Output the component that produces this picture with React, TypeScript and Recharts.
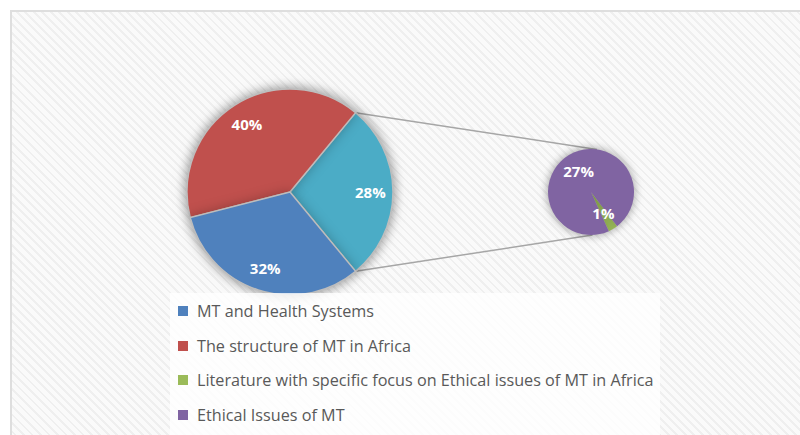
import React from "react"
import { PieChart, Pie, Cell, Legend, Customized } from "recharts"

// main pie: "other" slice (teal) is split out into the small pie
const mainNames = ["Other", "The structure of MT in Africa", "MT and Health Systems"]
const mainValues = [28, 40, 32]
const mainColors = ["#4BACC6", "#C0504D", "#4F81BD"]

const subNames = [
  "Literature with specific focus on Ethical issues of MT in Africa",
  "Ethical Issues of MT",
]
const subValues = [1, 27]
const subColors = ["#9BBB59", "#8064A2"]

const legendNames = [
  "MT and Health Systems",
  "The structure of MT in Africa",
  "Literature with specific focus on Ethical issues of MT in Africa",
  "Ethical Issues of MT",
]
const legendColors = ["#4F81BD", "#C0504D", "#9BBB59", "#8064A2"]

const mainData = mainNames.map((name, i) => ({ name, value: mainValues[i] }))
const subData = subNames.map((name, i) => ({ name, value: subValues[i] }))

const RADIAN = Math.PI / 180
const MAIN = { cx: 290, cy: 192, r: 103 }
const SUB = { cx: 591, cy: 192, r: 43 }
const otherShare = mainValues[0] / mainValues.reduce((a, b) => a + b, 0)
const mainStart = -otherShare * 180
const subStart = -65.5

const makeLabel = (ratio: number) => (props: any) => {
  const { cx, cy, midAngle, outerRadius, value } = props
  const r = outerRadius * ratio
  const x = cx + r * Math.cos(-midAngle * RADIAN)
  const y = cy + r * Math.sin(-midAngle * RADIAN)
  return (
    <text
      x={x}
      y={y}
      fill="#fff"
      textAnchor="middle"
      dominantBaseline="central"
      style={{ fontFamily: "'Open Sans'", fontWeight: 700, fontSize: 15 }}
    >
      {`${value}%`}
    </text>
  )
}

const Connectors = () => {
  const pt = (c: typeof MAIN, deg: number) => [
    c.cx + c.r * Math.cos(deg * RADIAN),
    c.cy - c.r * Math.sin(deg * RADIAN),
  ]
  const [x1, y1] = pt(MAIN, -mainStart)
  const [x2, y2] = pt(SUB, 82)
  const [x3, y3] = pt(MAIN, mainStart)
  const [x4, y4] = pt(SUB, -88)
  return (
    <g>
      <line x1={x1} y1={y1} x2={x2} y2={y2} stroke="#a6a6a6" strokeWidth={1.5} />
      <line x1={x3} y1={y3} x2={x4} y2={y4} stroke="#a6a6a6" strokeWidth={1.5} />
    </g>
  )
}

const LegendBox = () => (
  <div
    style={{
      background: "rgba(255,255,255,0.8)",
      width: 490,
      height: 142,
      boxSizing: "border-box",
      padding: "1px 0 0 8px",
    }}
  >
    {legendNames.map((n, i) => (
      <div
        key={n}
        style={{ display: "flex", alignItems: "center", height: 34.5, gap: 9 }}
      >
        <span style={{ width: 10, height: 10, background: legendColors[i], display: "inline-block", flexShrink: 0 }} />
        <span style={{ fontFamily: "'Open Sans'", fontSize: 16.2, color: "#595959", whiteSpace: "nowrap" }}>{n}</span>
      </div>
    ))}
  </div>
)

export default function App() {
  return (
    <div style={{ position: "absolute", left: 0, top: 0, width: 800, height: 435, background: "#fff", overflow: "hidden" }}>
      <style>{`.main-pie { filter: drop-shadow(0 0 6px rgba(0,0,0,0.25)); } .sub-pie { filter: drop-shadow(0 0 5px rgba(0,0,0,0.2)); }`}</style>
      <div
        style={{
          position: "absolute",
          left: 10,
          top: 10,
          width: 800,
          height: 435,
          borderTop: "2px solid #dedede",
          borderLeft: "2px solid #dedede",
          background:
            "repeating-linear-gradient(45deg, #fafafa 0px, #fafafa 4px, #efefef 4px, #efefef 6px)",
        }}
      />
      <div style={{ position: "absolute", left: 0, top: 0 }}>
        <PieChart width={800} height={435} margin={{ top: 0, right: 0, bottom: 0, left: 0 }}>
          <Customized component={Connectors} />
          <Pie
            data={mainData}
            dataKey="value"
            nameKey="name"
            cx={MAIN.cx}
            cy={MAIN.cy}
            outerRadius={MAIN.r}
            startAngle={mainStart}
            endAngle={mainStart + 360}
            stroke="#bdbdbd"
            strokeWidth={1.5}
            label={makeLabel(0.78)}
            labelLine={false}
            className="main-pie"
            isAnimationActive={false}
          >
            {mainData.map((d, i) => (
              <Cell key={d.name} fill={mainColors[i]} />
            ))}
          </Pie>
          <Pie
            data={subData}
            dataKey="value"
            nameKey="name"
            cx={SUB.cx}
            cy={SUB.cy}
            outerRadius={SUB.r}
            startAngle={subStart}
            endAngle={subStart + 360}
            stroke="none"
            label={makeLabel(0.56)}
            labelLine={false}
            className="sub-pie"
            isAnimationActive={false}
          >
            {subData.map((d, i) => (
              <Cell key={d.name} fill={subColors[i]} />
            ))}
          </Pie>
          <Legend
            content={<LegendBox />}
            wrapperStyle={{ position: "absolute", left: 170, top: 293, width: 490, height: 142 }}
          />
        </PieChart>
      </div>
    </div>
  )
}
